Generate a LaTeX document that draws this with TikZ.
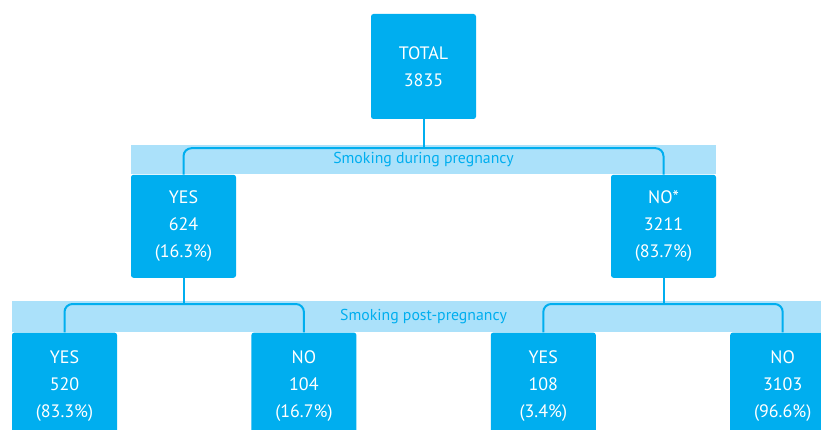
\documentclass[tikz,border=0pt]{standalone}
\usepackage{fontspec}
\setmainfont{PT Sans}
\usetikzlibrary{positioning}
\definecolor{cyanbox}{HTML}{00AEEF}
\definecolor{cyanband}{HTML}{ABE1FA}

\begin{document}
\begin{tikzpicture}
    [ x = 1pt, y = 1pt
    , box/.style =
      { fill=cyanbox, text=white, rounded corners=2.5pt, align=center
      , minimum width=105pt, minimum height=103pt, inner sep=0pt
      , font=\fontsize{18}{27}\selectfont }
    , band/.style =
      { fill=cyanband, text=cyanbox, inner sep=0pt
      , font=\fontsize{15.8}{18}\selectfont }
    , link/.style =
      { draw=cyanbox, line width=2pt }
    , bracket/.style =
      { link, rounded corners=8pt }
    ]
    \useasboundingbox (0,0) rectangle (821,-430);
    \clip (0,0) rectangle (821,-430);

    \node [box, minimum height=105pt] (total) at (423.5,-66.5) {TOTAL\\3835};
    \node [band, minimum width=585pt, minimum height=29pt] (band1) [below=26pt of total] {Smoking during pregnancy};
    \node [box] (yes1) [below right=0pt of band1.south west] {YES\\624\\(16.3\%)};
    \node [box] (no1) [below left=0pt of band1.south east] {NO*\\3211\\(83.7\%)};
    \node [band, minimum width=823pt, minimum height=31pt, anchor=north] (band2)
      at ([yshift=-23pt]yes1.south -| band1.south) {Smoking post-pregnancy};
    \node [box, minimum height=106pt] (yes2) [below right=0pt of band2.south west] {YES\\520\\(83.3\%)};
    \node [box, minimum height=106pt] (no2) [right=134pt of yes2] {NO\\104\\(16.7\%)};
    \node [box, minimum height=106pt] (yes3) [right=134pt of no2] {YES\\108\\(3.4\%)};
    \node [box, minimum height=106pt] (no3) [right=134pt of yes3] {NO\\3103\\(96.6\%)};

    \draw [link] (total.south) -- ([yshift=-3pt]total.south |- band1.north);
    \draw [bracket] (yes1.north) |- ([yshift=-3pt]band1.north) -| (no1.north);
    \draw [link] (yes1.south) -- ([yshift=-3pt]yes1.south |- band2.north);
    \draw [link] (no1.south) -- ([yshift=-3pt]no1.south |- band2.north);
    \draw [bracket] (yes2.north) |- ([yshift=-3pt]yes1.south |- band2.north) -| (no2.north);
    \draw [bracket] (yes3.north) |- ([yshift=-3pt]no1.south |- band2.north) -| (no3.north);
  \end{tikzpicture}
\end{document}
